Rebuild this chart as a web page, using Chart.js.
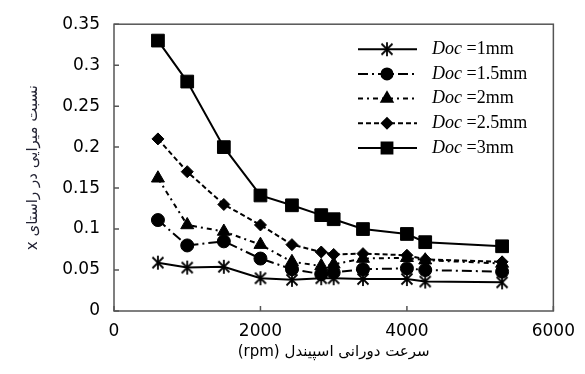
<!DOCTYPE html>
<html>
<head>
<meta charset="utf-8">
<script src="https://cdn.jsdelivr.net/npm/chart.js@4/dist/chart.umd.min.js"></script>
<style>
  html, body { margin: 0; padding: 0; background: #fff; }
  #wrap { width: 585px; height: 374px; }
</style>
</head>
<body>
<div id="wrap"><canvas id="graficaMiraiy"></canvas></div>
<script>
const rpm = [600, 1000, 1500, 2000, 2430, 2830, 3000, 3400, 4000, 4250, 5300];
const doc1 = [0.059, 0.053, 0.054, 0.040, 0.038, 0.040, 0.040, 0.039, 0.039, 0.036, 0.035];
const doc15 = [0.111, 0.080, 0.085, 0.064, 0.051, 0.045, 0.047, 0.051, 0.052, 0.050, 0.048];
const doc2 = [0.162, 0.105, 0.097, 0.081, 0.060, 0.055, 0.057, 0.064, 0.065, 0.062, 0.058];
const doc25 = [0.210, 0.170, 0.130, 0.105, 0.081, 0.072, 0.069, 0.070, 0.068, 0.063, 0.060];
const doc3 = [0.330, 0.280, 0.200, 0.141, 0.129, 0.117, 0.112, 0.100, 0.094, 0.084, 0.079];
const etiquetas = ['=1mm', '=1.5mm', '=2mm', '=2.5mm', '=3mm'];
const yTicks = [0, 0.05, 0.1, 0.15, 0.2, 0.25, 0.3, 0.35];
const xTicks = [0, 2000, 4000, 6000];

// asterisco de 6 brazos
const asterisco = document.createElement('canvas');
asterisco.width = 16; asterisco.height = 16;
(function () {
  const c = asterisco.getContext('2d');
  c.strokeStyle = '#000'; c.lineWidth = 1.8;
  c.beginPath();
  c.moveTo(8, 1); c.lineTo(8, 15);
  c.moveTo(2.5, 2.5); c.lineTo(13.5, 13.5);
  c.moveTo(13.5, 2.5); c.lineTo(2.5, 13.5);
  c.stroke();
})();

const pts = arr => arr.map((v, i) => ({ x: rpm[i], y: v }));

const serie = (data, estilo, radio, dash) => ({
  data: pts(data),
  borderColor: '#000',
  backgroundColor: '#000',
  borderWidth: 2,
  borderDash: dash,
  pointStyle: estilo,
  pointRadius: radio,
  pointHoverRadius: radio,
  pointBorderWidth: 1,
  tension: 0
});

const datasets = [
  serie(doc1, asterisco, 7, []),
  serie(doc15, 'circle', 6.5, [10, 4, 2, 4]),
  serie(doc2, 'triangle', 7.5, [5, 4, 2, 4]),
  serie(doc25, 'rectRot', 6, [5, 3]),
  serie(doc3, 'rect', 9, [])
];

const marco = {
  id: 'marco',
  afterDraw(chart) {
    const { ctx, chartArea: a, scales } = chart;
    ctx.save();
    ctx.strokeStyle = '#555';
    ctx.lineWidth = 1.5;
    ctx.strokeRect(a.left, a.top, a.right - a.left, a.bottom - a.top);
    ctx.beginPath();
    yTicks.forEach(v => {
      const y = scales.y.getPixelForValue(v);
      ctx.moveTo(a.left, y); ctx.lineTo(a.left + 5, y);
    });
    xTicks.forEach(v => {
      const x = scales.x.getPixelForValue(v);
      ctx.moveTo(x, a.bottom); ctx.lineTo(x, a.bottom - 5);
    });
    ctx.stroke();

    // leyenda
    chart.data.datasets.forEach((ds, i) => {
      const y = a.top + 25 + i * 24.7;
      const x0 = a.left + 244;
      ctx.beginPath();
      ctx.setLineDash(ds.borderDash);
      ctx.strokeStyle = '#000';
      ctx.lineWidth = 2;
      ctx.moveTo(x0, y); ctx.lineTo(x0 + 59, y);
      ctx.stroke();
      ctx.setLineDash([]);
      ctx.fillStyle = '#000';
      Chart.helpers.drawPoint(ctx, { pointStyle: ds.pointStyle, radius: ds.pointRadius * 0.85, borderWidth: 1 }, x0 + 29, y);
      ctx.textBaseline = 'middle';
      ctx.font = 'italic 18px "Liberation Serif"';
      ctx.fillText('Doc', x0 + 74, y);
      const w = ctx.measureText('Doc ').width;
      ctx.font = '18px "Liberation Serif"';
      ctx.fillText(etiquetas[i], x0 + 74 + w, y);
    });
    ctx.restore();
  }
};

new Chart(document.getElementById('graficaMiraiy'), {
  type: 'line',
  data: { datasets },
  options: {
    responsive: true,
    maintainAspectRatio: false,
    animation: false,
    layout: { padding: { top: 18, right: 24, left: 0, bottom: 0 } },
    plugins: { legend: { display: false }, tooltip: { enabled: false } },
    scales: {
      x: {
        type: 'linear',
        min: 0, max: 6000,
        afterBuildTicks: s => { s.ticks = xTicks.map(v => ({ value: v })); },
        afterFit: s => { s.height = 63; },
        grid: { display: false, drawTicks: false },
        border: { display: false },
        ticks: { padding: 10, color: '#000', font: { family: 'DejaVu Sans', size: 17 }, maxRotation: 0, callback: v => String(v) },
        title: {
          display: true,
          text: '\u202Bسرعت دورانی اسپیندل (rpm)\u202C',
          color: '#000',
          font: { family: 'DejaVu Sans', size: 15 },
          padding: { top: 2, bottom: 13 }
        }
      },
      y: {
        min: 0, max: 0.35,
        afterBuildTicks: s => { s.ticks = yTicks.map(v => ({ value: v })); },
        afterFit: s => { s.width = 114; },
        grid: { display: false, drawTicks: false },
        border: { display: false },
        ticks: { padding: 14, color: '#000', font: { family: 'DejaVu Sans', size: 17 }, callback: v => String(v) },
        title: {
          display: true,
          text: '\u202Bنسبت میرایی در راستای x\u202C',
          color: '#223',
          font: { family: 'DejaVu Sans', size: 15 },
          padding: { top: 24, bottom: 0 }
        }
      }
    }
  },
  plugins: [marco]
});
</script>
</body>
</html>
